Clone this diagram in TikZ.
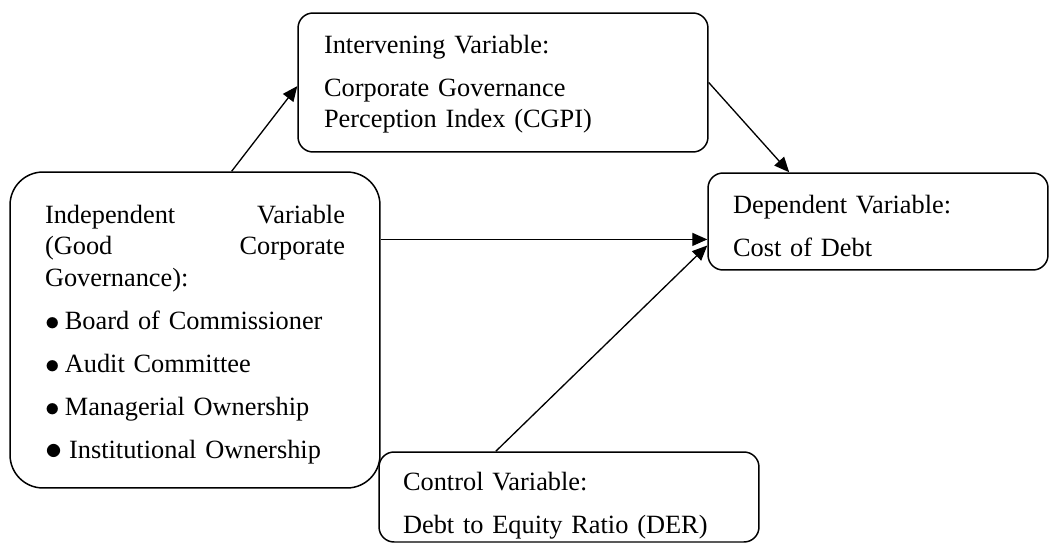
\documentclass[tikz,border=0pt]{standalone}
\usepackage{fontspec}
\setmainfont{Liberation Serif}
\usetikzlibrary{arrows.meta}
\newcommand{\itemdot}[1][1.15]{\raisebox{-0.6pt}{\scalebox{#1}{$\bullet$}}}

\begin{document}
\begin{tikzpicture}[x=0.02cm, y=-0.02cm,
                >={Triangle[length=0.3cm,width=0.26cm]}, line width=0.75pt,
                var/.style={draw, line width=0.85pt, rounded corners=0.3cm, inner ysep=0pt,
                  text height=0.36cm, align=left, font=\fontsize{15pt}{18pt}\selectfont}]

                \useasboundingbox (0,0) rectangle (1050,544);

                \node[var, rounded corners=0.66cm, text width=6cm, inner xsep=0.7cm,
                      minimum height=6.32cm, text depth=4.64cm] (ind) at (195,330)
                  {Independent \hfill Variable\\
                   (Good \hfill Corporate\\
                   Governance):\\[6.5pt]
                   \itemdot\hspace{3pt}Board of Commissioner\\[6.5pt]
                   \itemdot\hspace{3pt}Audit Committee\\[6.5pt]
                   \itemdot\hspace{3pt}Managerial Ownership\\[6.5pt]
                   \itemdot[1.35]\hspace{4pt}Institutional Ownership};
                \node[var, text width=7.16cm, inner xsep=0.52cm,
                      minimum height=2.78cm, text depth=1.54cm] (intv) at (503,82.5)
                  {Intervening Variable:\\[6.5pt]
                   Corporate Governance\\
                   Perception Index (CGPI)};
                \node[var, text width=5.8cm, inner xsep=0.5cm,
                      minimum height=1.94cm, text depth=0.7cm] (dep) at (878,221.5)
                  {Dependent Variable:\\[6.5pt]
                   Cost of Debt};
                \node[var, text width=6.64cm, inner xsep=0.48cm,
                      minimum height=1.8cm, text depth=0.64cm] (ctrl) at (569,497)
                  {Control Variable:\\[6.5pt]
                   Debt to Equity Ratio (DER)};

                \path[->]
                (ind.77) edge (intv.181)
                (intv.east) edge (dep.151)
                (ind.26) edge (ind.26 -| dep.west)
                (ctrl.148) edge (dep.188);

\end{tikzpicture}
\end{document}
